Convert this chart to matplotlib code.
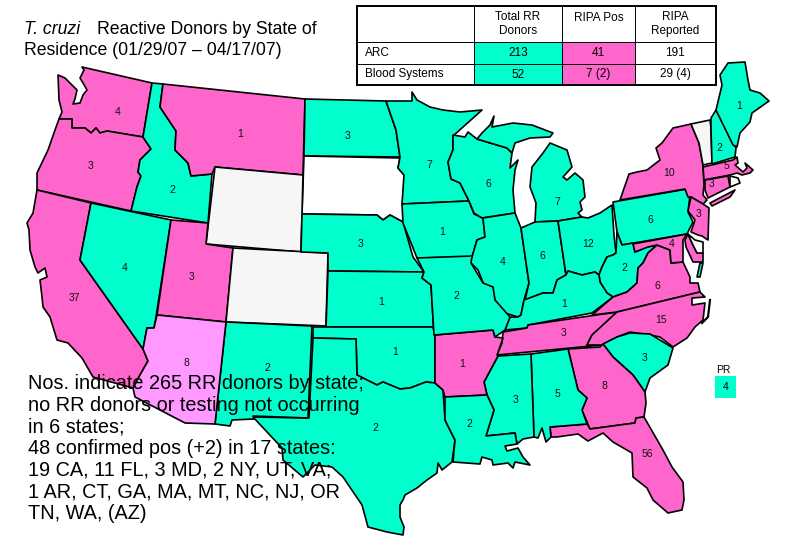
import matplotlib
matplotlib.use("Agg")
import matplotlib.pyplot as plt
from matplotlib.patches import Polygon, Rectangle

TEAL = "#00FFCC"
PINK = "#FF66CC"
LILAC = "#FF99FF"
GREY = "#F6F6F6"
WHITE = "#FFFFFF"

plt.rcParams["font.family"] = ["Liberation Sans", "DejaVu Sans"]

# --- state outlines (image pixels) ---
WA = [(82,67),(152,83),(143,137),(107,131),(100,133),(96,128),(91,133),(85,128),(72,128),(72,119),(59,119),(62,112),(59,100),(58,75),(65,78),(75,88),(77,90),(75,99),(73,104),(80,103),(83,95),(87,90),(83,83),(80,78),(84,70)]
OR = [(59,119),(72,119),(72,128),(85,128),(91,133),(96,128),(100,133),(107,131),(143,137),(151,149),(140,160),(138,172),(141,176),(137,187),(131,211),(37,190),(37,173),(48,150),(55,130)]
CA = [(37,190),(91,203),(80,260),(143,349),(148,361),(140,375),(133,388),(93,377),(82,358),(68,343),(57,340),(50,317),(43,307),(42,297),(40,280),(47,277),(45,268),(38,273),(35,267),(30,250),(29,230),(27,223),(33,213)]
NV = [(91,203),(171,220),(156,317),(154,328),(147,328),(143,349),(80,260)]
ID = [(152,83),(163,84),(160,107),(176,131),(175,150),(188,163),(191,176),(212,174),(208,223),(131,211),(137,187),(141,176),(138,172),(140,160),(151,149),(143,137)]
MT = [(163,84),(305,99),(303,175),(215,167),(212,174),(191,176),(188,163),(175,150),(176,131),(160,107)]
ND = [(305,99),(386,101),(396,130),(400,157),(304,156)]
SD = [(304,156),(400,158),(398,168),(404,175),(403,222),(390,215),(383,220),(377,215),(302,214)]
WY = [(215,167),(303,175),(301,252),(206,244)]
UT = [(171,220),(208,223),(206,244),(233,248),(226,322),(157,315)]
CO = [(233,248),(328,253),(326,326),(226,322)]
NE = [(302,214),(377,215),(383,220),(390,215),(403,222),(413,257),(424,272),(328,271),(328,253),(301,252)]
KS = [(328,271),(424,272),(422,278),(431,285),(434,335),(433,327),(326,327)]
OK = [(313,327),(433,327),(435,335),(435,383),(426,382),(410,388),(400,389),(383,382),(377,385),(357,375),(356,339),(313,338)]
TX = [(313,338),(356,339),(357,375),(377,385),(383,382),(400,389),(410,388),(426,382),(435,383),(443,390),(445,420),(455,440),(452,462),(442,470),(438,463),(437,473),(427,480),(417,488),(405,495),(403,500),(400,505),(400,517),(404,527),(403,535),(387,532),(368,527),(362,505),(343,477),(332,467),(315,465),(303,477),(283,460),(282,448),(253,417),(309,418)]
NM = [(226,322),(312,326),(308,418),(253,416),(254,419),(232,420),(230,426),(215,424)]
AZ = [(157,315),(226,322),(215,424),(185,423),(135,397),(133,388),(140,375),(148,361),(143,349),(147,328),(154,328)]
MN = [(386,101),(412,101),(412,92),(417,100),(430,107),(443,110),(460,112),(482,110),(453,136),(453,150),(448,162),(451,179),(460,183),(469,201),(402,204),(404,175),(398,168),(400,157),(396,130)]
IA = [(402,204),(469,201),(474,214),(483,218),(485,237),(477,240),(472,257),(417,258),(403,223)]
WI = [(453,135),(465,137),(468,132),(477,139),(507,148),(512,153),(510,168),(518,160),(515,170),(513,190),(515,213),(482,218),(474,213),(469,201),(460,183),(451,179),(448,162),(453,150)]
MI_UP = [(477,139),(482,133),(490,125),(494,116),(492,127),(513,123),(532,125),(553,133),(550,137),(530,138),(515,143),(512,153),(507,148)]
MI_LP = [(550,143),(567,150),(572,167),(563,177),(567,180),(575,173),(583,180),(585,197),(580,202),(582,210),(578,213),(582,217),(558,221),(535,222),(536,203),(530,187),(532,167),(543,153)]
IL = [(483,218),(515,213),(521,228),(529,283),(524,300),(521,315),(518,317),(505,313),(495,300),(492,287),(484,285),(478,270),(470,262),(472,257),(477,240),(485,237)]
IN = [(521,228),(535,222),(558,221),(566,275),(557,280),(553,293),(543,293),(525,300),(529,283)]
OH = [(558,221),(582,217),(588,218),(600,213),(612,205),(614,235),(616,253),(613,255),(607,257),(602,267),(599,275),(595,272),(582,275),(568,271),(566,275)]
PA = [(613,202),(687,189),(690,195),(688,212),(693,222),(687,234),(622,245),(617,232)]
WV = [(622,245),(633,243),(635,252),(647,247),(657,245),(648,253),(643,263),(638,268),(637,283),(627,292),(613,297),(607,293),(600,282),(599,275),(602,267),(607,257),(613,255),(616,253),(617,232)]
KY = [(566,275),(568,271),(582,275),(595,272),(599,275),(600,282),(607,293),(613,297),(592,313),(528,325),(527,328),(505,330),(510,317),(518,317),(521,315),(524,300),(543,293),(553,293),(557,280)]
TN = [(617,312),(528,325),(527,328),(503,332),(502,343),(497,355),(602,345),(587,345),(592,335),(600,328)]
VA = [(592,315),(613,297),(627,292),(637,283),(638,268),(643,263),(648,253),(657,245),(670,250),(671,263),(683,262),(690,277),(690,283),(698,283),(700,292),(617,312)]
NC = [(700,292),(705,297),(692,298),(692,305),(705,303),(703,320),(695,327),(687,338),(673,347),(660,337),(650,335),(630,332),(617,337),(602,345),(587,345),(592,335),(617,312)]
SC = [(603,344),(617,337),(630,333),(650,334),(673,348),(668,365),(650,378),(645,392),(633,375),(613,357)]
GA = [(568,349),(600,347),(603,344),(613,357),(633,375),(645,392),(646,403),(644,417),(636,418),(635,423),(590,429),(582,410),(587,398),(578,390)]
FL = [(550,427),(587,424),(590,429),(635,423),(636,418),(644,417),(663,450),(672,467),(683,482),(684,500),(682,510),(668,513),(653,500),(647,488),(633,477),(632,453),(613,442),(603,433),(588,441),(578,434),(557,437),(551,437)]
AL = [(531,354),(568,349),(578,390),(587,398),(582,410),(587,424),(550,427),(551,437),(546,442),(542,428),(538,438),(534,437)]
MS = [(498,356),(531,354),(534,437),(523,439),(517,444),(515,433),(486,436),(494,410),(487,395),(484,382)]
AR = [(435,335),(493,330),(495,337),(503,338),(497,355),(498,356),(484,382),(487,395),(445,397),(443,390),(435,383)]
LA = [(445,397),(487,395),(494,410),(486,436),(515,433),(517,444),(505,446),(507,451),(518,448),(523,457),(530,465),(515,462),(513,468),(508,463),(493,465),(492,460),(482,457),(480,464),(453,462),(455,440),(445,420)]
MO = [(417,258),(472,256),(471,263),(483,283),(493,287),(495,300),(510,317),(505,330),(495,337),(493,330),(434,335),(431,285),(422,278),(424,272)]
NY = [(620,200),(629,174),(637,172),(647,170),(660,160),(656,148),(662,143),(673,128),(691,124),(699,143),(703,165),(704,185),(703,195),(707,200),(703,204),(691,197),(688,197),(685,189)]
LONG_ISLAND = [(710,203),(735,190),(730,197),(712,206)]
VT = [(691,124),(710,120),(711,128),(712,163),(703,165),(699,143)]
NH = [(711,118),(716,110),(736,148),(735,157),(712,164),(711,128)]
ME = [(716,110),(722,85),(720,75),(728,63),(745,62),(748,80),(750,90),(760,93),(769,101),(752,113),(750,122),(740,133),(737,147),(733,145)]
MA = [(703,167),(733,160),(737,157),(738,163),(735,165),(743,172),(747,168),(745,163),(753,170),(750,173),(742,175),(737,173),(730,175),(704,180)]
CT = [(705,180),(728,176),(730,187),(708,198),(705,190)]
RI = [(730,176),(738,178),(740,183),(730,187)]
NJ = [(691,197),(703,204),(709,208),(708,240),(702,236),(698,235),(691,232),(695,220),(688,211)]
MD = [(633,244),(687,234),(683,240),(683,262),(671,263),(670,250),(657,245),(648,247),(635,252)]
MD_SHORE = [(685,240),(686,247),(693,262),(703,262),(703,253),(697,253),(692,243),(688,234)]
DE = [(688,234),(695,240),(703,242),(703,253),(697,253),(692,243)]
VA_SHORE = [(700,263),(703,263),(700,277),(697,277)]

state_shapes = [WA, OR, CA, NV, ID, MT, ND, SD, WY, UT, CO, NE, KS, OK, TX, NM, AZ, MN, IA, WI,
                MI_UP, MI_LP, IL, IN, OH, PA, WV, KY, TN, VA, NC, SC, GA, FL, AL, MS, AR, LA, MO,
                NY, LONG_ISLAND, VT, NH, ME, MA, CT, RI, NJ, MD, MD_SHORE, DE, VA_SHORE]
state_colors = [PINK, PINK, PINK, TEAL, TEAL, PINK, TEAL, WHITE, GREY, PINK, GREY, TEAL, TEAL, TEAL, TEAL, TEAL, LILAC, TEAL, TEAL, TEAL,
                TEAL, TEAL, TEAL, TEAL, TEAL, TEAL, TEAL, TEAL, PINK, PINK, PINK, TEAL, PINK, PINK, TEAL, TEAL, PINK, TEAL, TEAL,
                PINK, PINK, GREY, TEAL, TEAL, PINK, PINK, WHITE, PINK, PINK, PINK, WHITE, TEAL]

# counts shown on the map
label_vals = ["4","1","3","3","2","7","6","10","7","6","3","1","4","6","12","4","3","37","1","2","1","2","6","15","3","1","1","8","2","3","8","5","3","2","2","56","1","2","5","3","3","4"]
label_x = [118,240,348,91,172,429,488,669,557,650,361,442,503,542,588,125,192,74,381,456,564,624,657,661,564,395,462,186,267,645,604,557,516,469,375,647,739,719,726,712,699,672]
label_y = [112,134,136,166,190,165,184,173,202,220,244,232,262,256,244,268,277,298,302,296,304,268,286,320,333,352,364,363,368,358,386,394,400,424,428,454,106,148,166,184,214,244]

# table on top right
col_headers = ["Total RR\nDonors", "RIPA Pos", "RIPA\nReported"]
row_names = ["ARC", "Blood Systems"]
total_rr = ["213", "52"]
ripa_pos = ["41", "7 (2)"]
ripa_reported = ["191", "29 (4)"]

note_lines = [
    "Nos. indicate 265 RR donors by state;",
    "no RR donors or testing not occurring",
    "in 6 states;",
    "48 confirmed pos (+2) in 17 states:",
    "19 CA, 11 FL, 3 MD, 2 NY, UT, VA;",
    "1 AR, CT, GA, MA, MT, NC, NJ, OR",
    "TN, WA, (AZ)",
]

fig = plt.figure(figsize=(8.1, 5.4), dpi=100)
ax = fig.add_axes([0, 0, 1, 1])
ax.set_xlim(0, 810)
ax.set_ylim(540, 0)
ax.axis("off")

for shape, color in zip(state_shapes, state_colors):
    ax.add_patch(Polygon(shape, closed=True, facecolor=color, edgecolor="black", linewidth=1.2, joinstyle="round"))

# outer banks
ax.plot([710, 708, 702], [300, 317, 323], color="black", linewidth=1.6)

for x, y, val in zip(label_x, label_y, label_vals):
    ax.text(x, y, val, ha="center", va="center", fontsize=7.5, color="#111111")

# PR box
ax.add_patch(Rectangle((715, 376), 21, 22, facecolor=TEAL, edgecolor="none"))
ax.text(723, 370, "PR", ha="center", va="center", fontsize=7.5)
ax.text(726, 387, "4", ha="center", va="center", fontsize=7.5)

# title
ax.text(24, 34, "T. cruzi", fontsize=12.7, style="italic", va="baseline")
ax.text(97, 34, "Reactive Donors by State of", fontsize=12.7, va="baseline")
ax.text(24, 55, "Residence (01/29/07 \u2013 04/17/07)", fontsize=12.7, va="baseline")

# table
col_x = [357, 474, 562, 635, 716]
row_y = [6, 42, 64, 85]
ax.add_patch(Rectangle((357, 6), 359, 79, facecolor="white", edgecolor="none", zorder=3))
ax.add_patch(Rectangle((474, 42), 88, 43, facecolor=TEAL, edgecolor="none", zorder=3))
ax.add_patch(Rectangle((562, 42), 73, 43, facecolor=PINK, edgecolor="none", zorder=3))
for x in col_x[1:-1]:
    ax.plot([x, x], [row_y[0], row_y[-1]], color="black", linewidth=0.7, zorder=4)
for y in row_y[1:-1]:
    ax.plot([col_x[0], col_x[-1]], [y, y], color="black", linewidth=0.7, zorder=4)
ax.add_patch(Rectangle((357, 6), 359, 79, facecolor="none", edgecolor="black", linewidth=1.4, zorder=4))

for i, head in enumerate(col_headers):
    ax.text((col_x[i + 1] + col_x[i + 2]) / 2, 18 if "\n" not in head else 24, head, ha="center", va="center",
            fontsize=8.5, zorder=5, linespacing=1.15)
for j in range(2):
    yc = (row_y[j + 1] + row_y[j + 2]) / 2
    ax.text(365, yc, row_names[j], ha="left", va="center", fontsize=8.5, zorder=5)
    ax.text(518, yc, total_rr[j], ha="center", va="center", fontsize=8.5, zorder=5)
    ax.text(598, yc, ripa_pos[j], ha="center", va="center", fontsize=8.5, zorder=5)
    ax.text(675, yc, ripa_reported[j], ha="center", va="center", fontsize=8.5, zorder=5)

# note over the map
for i, line in enumerate(note_lines):
    ax.text(28, 389 + 21.7 * i, line, fontsize=14.3, va="baseline", color="black", zorder=6)

plt.savefig("out.png", dpi=100)
